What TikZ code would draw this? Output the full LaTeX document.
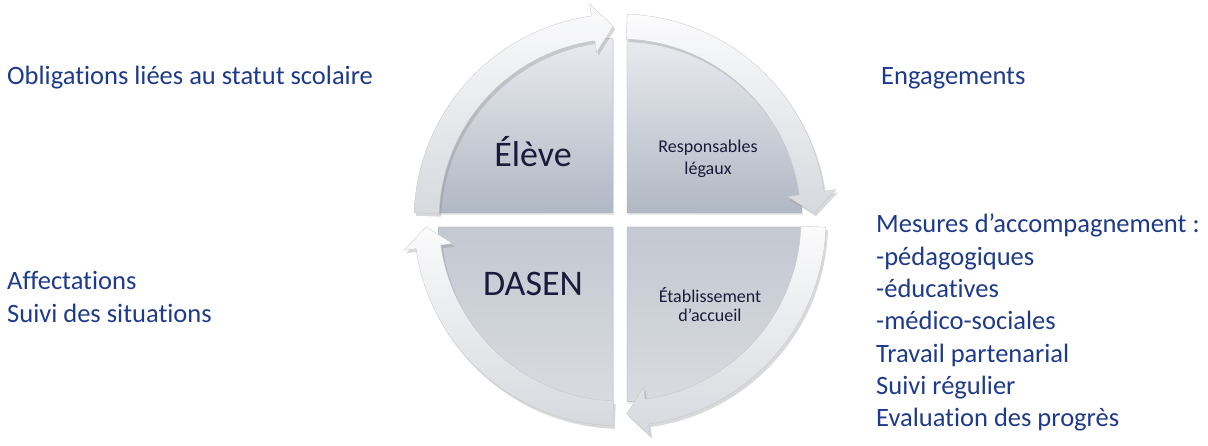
\documentclass[tikz,border=0pt]{standalone}
\usepackage{fontspec}
\setmainfont{Carlito}[Ligatures=NoCommon]
\usetikzlibrary{shadows,calc}
\definecolor{txtblue}{HTML}{1E3A8A}
\definecolor{inktxt}{HTML}{1A1A3A}
\definecolor{secTopA}{HTML}{E9EBEF}
\definecolor{secBotA}{HTML}{B0B8C4}
\definecolor{secTopB}{HTML}{C3C8D1}
\definecolor{secBotB}{HTML}{D8DBE0}
\definecolor{ringTop}{HTML}{FBFBFC}
\definecolor{ringBot}{HTML}{D6D9DE}
\definecolor{secEdge}{HTML}{A9B0BC}
\newcommand\myringarrow[3]{%
  \path[ringarrow] ([shift={(#1:206)}]C) arc[start angle=#1,end angle=#2,radius=206]
    -- ([shift={(#2:218)}]C) -- ([shift={(#3:194)}]C) -- ([shift={(#2:169)}]C)
    -- ([shift={(#2:181)}]C) arc[start angle=#2,end angle=#1,radius=181] -- cycle;}
\begin{document}
\begin{tikzpicture}[x=1pt,y=1pt,
  sectorbox/.style={draw=secEdge,line width=0.4pt,
    drop shadow={shadow xshift=1pt,shadow yshift=-2pt,opacity=0.18}},
  ringarrow/.style={top color=ringTop,bottom color=ringBot,draw=ringBot!90!black,line width=0.3pt,
    drop shadow={shadow xshift=2pt,shadow yshift=-3pt,opacity=0.3}},
  outtxt/.style={text=txtblue,inner sep=0pt,font=\fontsize{26.5}{32.3}\selectfont},
  intxt/.style={text=inktxt,inner sep=0pt}]
\useasboundingbox (0,0) rectangle (1208,446);
\coordinate (C) at (620,226);
% sectors
\path[sectorbox,top color=secTopA,bottom color=secBotA]
  ([shift={(-7,7)}]C) -- ([shift={(92.2:182)}]C) arc[start angle=92.2,end angle=177.8,radius=182] -- cycle;
\path[sectorbox,top color=secTopA,bottom color=secBotA]
  ([shift={(7,7)}]C) -- ([shift={(2.2:182)}]C) arc[start angle=2.2,end angle=87.8,radius=182] -- cycle;
\path[sectorbox,top color=secTopB,bottom color=secBotB]
  ([shift={(7,-7)}]C) -- ([shift={(-87.8:182)}]C) arc[start angle=-87.8,end angle=-2.2,radius=182] -- cycle;
\path[sectorbox,top color=secTopB,bottom color=secBotB]
  ([shift={(-7,-7)}]C) -- ([shift={(-177.8:182)}]C) arc[start angle=-177.8,end angle=-92.2,radius=182] -- cycle;
% ring arrows
\myringarrow{178}{98}{92}
\myringarrow{88}{8}{2}
\myringarrow{-2}{-82}{-88}
\myringarrow{-92}{-172}{-178}
% inner texts
\node[intxt,anchor=base,font=\fontsize{36}{40}\selectfont] (eleve) at (533,279) {Élève};
\node[intxt,anchor=base,font=\fontsize{36}{40}\selectfont] (dasen) at (533,150) {DASEN};
\node[intxt,anchor=base,font=\fontsize{18}{22}\selectfont] (resp) at (708,293)
  {\begin{tabular}[t]{@{}c@{}}Responsables\\légaux\end{tabular}};
\node[intxt,anchor=base,font=\fontsize{18}{19}\selectfont] (etab) at (710,143)
  {\begin{tabular}[t]{@{}c@{}}Établissement\\d’accueil\end{tabular}};
% outer texts
\node[outtxt,anchor=base west] (oblig) at (7,361) {Obligations liées au statut scolaire};
\node[outtxt,anchor=base west] (engag) at (881,361) {Engagements};
\node[outtxt,anchor=base west] (affect) at (7,156)
  {\begin{tabular}[t]{@{}l@{}}Affectations\\Suivi des situations\end{tabular}};
\node[outtxt,anchor=base west] (mesures) at (876,213)
  {\begin{tabular}[t]{@{}l@{}}Mesures d’accompagnement :\\-pédagogiques\\-éducatives\\-médico-sociales\\Travail partenarial\\Suivi régulier\\Evaluation des progrès\end{tabular}};
\end{tikzpicture}
\end{document}
